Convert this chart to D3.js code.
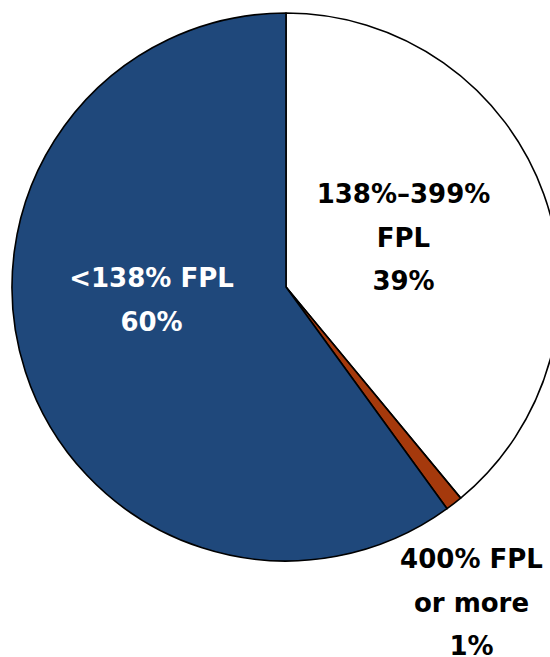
<!DOCTYPE html>
<html>
<head>
<meta charset="utf-8">
<title>FPL pie</title>
<script src="https://d3js.org/d3.v7.min.js"></script>
<style>
  body { margin: 0; background: #fff; }
  svg { display: block; }
  .lbl { font-family: "DejaVu Sans", sans-serif; font-weight: 700; font-size: 26px; }
</style>
</head>
<body>
<div id="chart"></div>
<script>
// data, clockwise from 12 o'clock
var categories = ["138%\u2013399%", "400%", "<138%"];
var shares = [39, 1, 60];
var labelLines = [
    ["138%\u2013399%", "FPL", "39%"],
    ["400% FPL", "or more", "1%"],
    ["<138% FPL", "60%"]
];
var colors = ["#ffffff", "#a5390c", "#1f487b"];
var textColors = ["#000000", "#000000", "#ffffff"];

var w = 550, h = 657;
var cx = 286, cy = 287, r = 274;
var lineGap = 43.5;

// label anchor (first baseline) relative to pie centre
var labelAnchor = [[117.5, -84], [185.5, 281], [-134.5, 0]];

var svg = d3.select("#chart").append("svg")
    .attr("width", w)
    .attr("height", h);

var g = svg.append("g")
    .attr("transform", "translate(" + cx + "," + cy + ")");

var pie = d3.pie().sort(null).value(function(d){ return d; });
var arc = d3.arc().innerRadius(0).outerRadius(r);

var arcs = pie(shares);

g.selectAll(".slice")
    .data(arcs)
    .enter()
    .append("path")
    .attr("class", "slice")
    .attr("d", arc)
    .attr("fill", function(d, i){ return colors[i]; })
    .attr("stroke", "#000")
    .attr("stroke-width", 1.6)
    .attr("stroke-linejoin", "round");

var labels = g.selectAll(".lbl")
    .data(arcs)
    .enter()
    .append("text")
    .attr("class", "lbl")
    .attr("text-anchor", "middle")
    .attr("fill", function(d, i){ return textColors[i]; })
    .attr("x", function(d, i){ return labelAnchor[i][0]; })
    .attr("y", function(d, i){ return labelAnchor[i][1]; });

labels.each(function(d, i){
    var t = d3.select(this);
    labelLines[i].forEach(function(line, k){
        t.append("tspan")
            .attr("x", labelAnchor[i][0])
            .attr("dy", k === 0 ? 0 : lineGap)
            .text(line);
    });
});
</script>
</body>
</html>
